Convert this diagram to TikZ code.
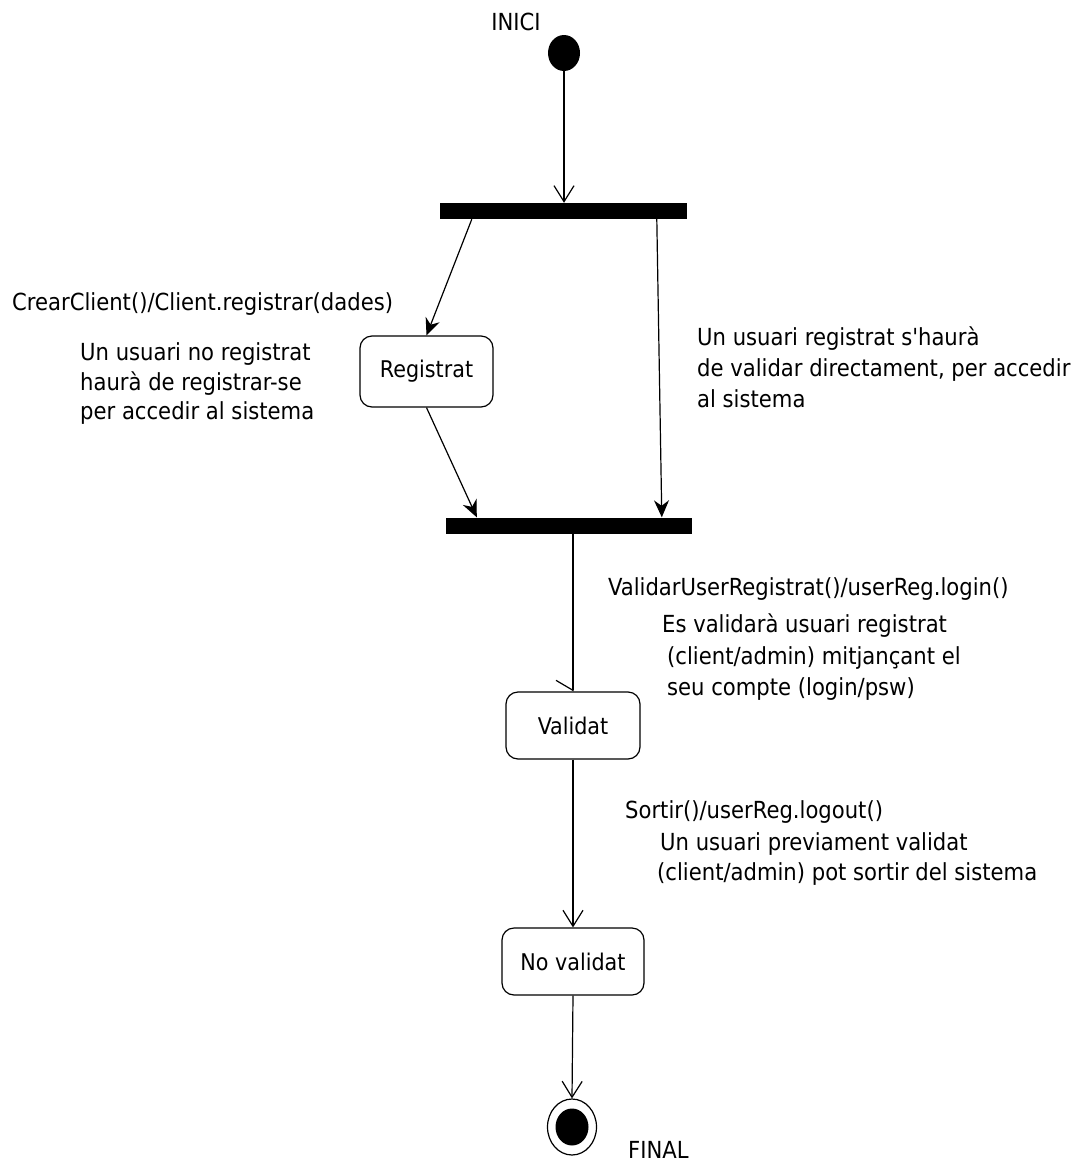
\documentclass[tikz,border=0pt]{standalone}
\usepackage{fontspec}
\setmainfont{DejaVu Sans Condensed}[Ligatures=TeXOff]
\usetikzlibrary{arrows.meta,shapes.geometric,calc}
\begin{document}
\begin{tikzpicture}[x=1bp,y=-1bp,
  txt/.style={inner sep=0pt,anchor=base west,font=\fontsize{23.5bp}{30bp}\selectfont},
  state/.style={draw,rounded corners=12bp,line width=1.2bp,inner sep=0pt,font=\fontsize{23bp}{30bp}\selectfont},
  bar/.style={fill=black,inner sep=0pt,minimum height=16bp},
  conn/.style={line width=1.2bp},
  openarr/.style={conn,-{Straight Barb[length=16bp,width=20bp,line width=1.2bp]}},
  fillarr/.style={conn,-{Stealth[length=17bp,width=15bp]}},
  halfarr/.style={conn,-{Straight Barb[right,length=10bp,width=34bp,line width=1.2bp]}}]
\useasboundingbox (0,0) rectangle (1088,1162);
% start
\node[ellipse,fill=black,minimum width=32bp,minimum height=36bp,inner sep=0pt] (s) at (564,53) {};
\node[txt,anchor=base] (inici) at (516,30) {INICI};
% bars
\node[bar,minimum width=247bp] (b1) at (563.5,211) {};
\node[bar,minimum width=246bp] (b2) at (569,525.5) {};
% states
\node[state,minimum width=133bp,minimum height=71bp] (reg) at (426.5,371.5) {Registrat};
\node[state,minimum width=134bp,minimum height=67bp] (val) at (573,725.5) {Validat};
\node[state,minimum width=142bp,minimum height=67bp] (nv) at (573,961.5) {No validat};
% final
\node[ellipse,draw,line width=1.2bp,minimum width=49bp,minimum height=56bp,inner sep=0pt] (fin) at (572,1127) {};
\node[ellipse,fill=black,minimum width=33bp,minimum height=37bp,inner sep=0pt] (fininner) at (fin.center) {};
\node[txt] (final) at (628,1158) {FINAL};
% connectors
\draw[openarr] (s) -- (s |- b1.north);
\draw[fillarr] ([xshift=32bp]b1.south west) -- (reg.north);
\draw[fillarr] (reg.south) -- ([xshift=31bp]b2.north west);
\draw[fillarr] ([xshift=217bp]b1.south west) -- ([xshift=216bp]b2.north west);
\draw[halfarr] (val.north |- b2.south) -- (val.north);
\draw[openarr] (val.south) -- (nv.north);
\draw[openarr] (nv.south) -- (fin.north);
% labels
\node[txt] (l1) at (12,310) {CrearClient()/Client.registrar(dades)};
\node[txt] (l2a) at (80,360) {Un usuari no registrat};
\node[txt] (l2b) at (80,390) {haurà de registrar-se};
\node[txt] (l2c) at (80,419) {per accedir al sistema};
\node[txt] (r1a) at (697,345) {Un usuari registrat s'haurà};
\node[txt] (r1b) at (697,376) {de validar directament, per accedir};
\node[txt] (r1c) at (697,407) {al sistema};
\node[txt] (v1) at (608,595) {ValidarUserRegistrat()/userReg.login()};
\node[txt] (v2a) at (662,632) {Es validarà usuari registrat};
\node[txt] (v2b) at (667,664) {(client/admin) mitjançant el};
\node[txt] (v2c) at (667,695) {seu compte (login/psw)};
\node[txt] (o1) at (625,818) {Sortir()/userReg.logout()};
\node[txt] (o2a) at (660,850) {Un usuari previament validat};
\node[txt] (o2b) at (657,880) {(client/admin) pot sortir del sistema};
\end{tikzpicture}
\end{document}
